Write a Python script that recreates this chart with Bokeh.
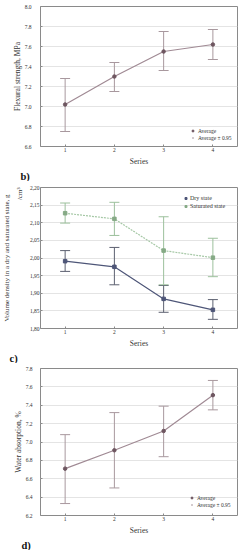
import math
from bokeh.plotting import figure
from bokeh.models import (ColumnDataSource, Whisker, TeeHead, Legend, LegendItem,
                          Title, FixedTicker, Range1d, GlobalInlineStyleSheet)
from bokeh.layouts import column
from bokeh.embed import file_html
from bokeh.resources import INLINE

# ---------------- data ----------------
series = [1, 2, 3, 4]

# b) flexural strength
flex_mean = [7.02, 7.30, 7.55, 7.62]
flex_low = [6.75, 7.15, 7.36, 7.47]
flex_high = [7.28, 7.44, 7.75, 7.77]
flex_ticks = [6.6, 6.8, 7.0, 7.2, 7.4, 7.6, 7.8, 8.0]
flex_labels = ["6.6", "6.8", "7.0", "7.2", "7.4", "7.6", "7.8", "8.0"]

# c) volume density
dry_mean = [1.991, 1.975, 1.884, 1.853]
dry_low = [1.962, 1.924, 1.846, 1.826]
dry_high = [2.021, 2.030, 1.922, 1.882]
sat_mean = [2.127, 2.111, 2.021, 2.001]
sat_low = [2.099, 2.064, 1.924, 1.947]
sat_high = [2.156, 2.158, 2.117, 2.056]
dens_ticks = [1.80, 1.85, 1.90, 1.95, 2.00, 2.05, 2.10, 2.15, 2.20]
dens_labels = ["1,80", "1,85", "1,90", "1,95", "2,00", "2,05", "2,10", "2,15", "2,20"]

# d) water absorption
wa_mean = [6.71, 6.91, 7.12, 7.51]
wa_low = [6.33, 6.50, 6.84, 7.35]
wa_high = [7.08, 7.32, 7.39, 7.67]
wa_ticks = [6.2, 6.4, 6.6, 6.8, 7.0, 7.2, 7.4, 7.6, 7.8]
wa_labels = ["6.2", "6.4", "6.6", "6.8", "7.0", "7.2", "7.4", "7.6", "7.8"]

SERIF = "Liberation Serif"
TXT = "#333333"
LINE_C = "#a08a94"
PT_C = "#6e5660"
ERR_C = "#a8989e"
DRY_C = "#4e5678"
DRY_ERR = "#5c6070"
SAT_C = "#a6c8a6"
SAT_PT = "#86aa86"
SAT_ERR = "#9cc09c"


def make_fig(h, ylo, yhi, yticks, ylabels, borders, ytick_standoff):
    left, right, top, bottom = borders
    p = figure(width=249, height=h, output_backend="svg", toolbar_location=None,
               x_range=Range1d(0.5, 4.5), y_range=Range1d(ylo, yhi),
               min_border_left=left, min_border_right=right,
               min_border_top=top, min_border_bottom=bottom)
    p.background_fill_color = "white"
    p.border_fill_color = "white"
    p.outline_line_color = "#8a8a8a"
    p.outline_line_width = 1
    p.xgrid.grid_line_color = None
    p.ygrid.grid_line_color = "#e4e4e4"
    p.ygrid.ticker = FixedTicker(ticks=yticks)
    for ax in [p.xaxis[0], p.yaxis[0]]:
        ax.axis_line_color = None
        ax.major_tick_in = 2
        ax.major_tick_out = 0
        ax.minor_tick_line_color = None
        ax.major_tick_line_color = "#8a8a8a"
        ax.major_label_text_font = SERIF
        ax.major_label_text_font_size = "5.5px"
        ax.major_label_text_color = TXT
        ax.axis_label_text_font = SERIF
        ax.axis_label_text_font_size = "7.5px"
        ax.axis_label_text_font_style = "normal"
        ax.axis_label_text_color = TXT
    p.xaxis[0].ticker = FixedTicker(ticks=series)
    p.xaxis[0].major_label_overrides = {s: str(s) for s in series}
    p.xaxis[0].major_label_standoff = 1
    p.xaxis[0].axis_label = "Series"
    p.xaxis[0].axis_label_standoff = 2
    p.yaxis[0].ticker = FixedTicker(ticks=yticks)
    p.yaxis[0].major_label_overrides = dict(zip(yticks, ylabels))
    p.yaxis[0].major_label_standoff = ytick_standoff
    return p


def side_title(p, text, place, size, align="center", standoff=0, offset=0, bold=False):
    t = Title(text=text, align=align, offset=offset, standoff=standoff,
              text_font=SERIF, text_font_size=size,
              text_color="#111111" if bold else TXT,
              text_font_style="bold" if bold else "normal")
    p.add_layout(t, place)


def add_series(p, mean, low, high, line_c, pt_c, err_c, dash="solid", marker="circle", size=3.5):
    src = ColumnDataSource(dict(x=series, m=mean, lo=low, hi=high))
    p.line("x", "m", source=src, line_color=line_c, line_width=1.2, line_dash=dash)
    w = Whisker(source=src, base="x", lower="lo", upper="hi", dimension="height",
                line_color=err_c, line_width=1,
                lower_head=TeeHead(size=10, line_color=err_c, line_width=1),
                upper_head=TeeHead(size=10, line_color=err_c, line_width=1))
    p.add_layout(w)
    r = p.scatter("x", "m", source=src, marker=marker, size=size,
                  fill_color=pt_c, line_color=pt_c)
    return r, src


def avg_legend(p, r, src, loc, err_c):
    bar = p.scatter("x", "m", source=src, marker="dash", angle=math.pi / 2, size=7,
                    line_color=err_c, line_width=1, visible=False)
    leg = Legend(items=[LegendItem(label="Average", renderers=[r], index=0),
                        LegendItem(label="Average ± 0.95", renderers=[bar], index=0)],
                 location=loc, orientation="vertical",
                 label_text_font=SERIF, label_text_font_size="5.5px",
                 label_text_color=TXT, label_standoff=3,
                 glyph_width=5, glyph_height=7, label_height=7,
                 spacing=0, padding=0, margin=0,
                 border_line_color=None, background_fill_alpha=0)
    p.add_layout(leg, "center")


# ---------------- panel b ----------------
p1 = make_fig(181, 6.6, 8.0, flex_ticks, flex_labels, (27, 7, 6, 8), 9)
side_title(p1, "Flexural strength, MPa", "left", "7.5px", standoff=0)
r1, s1 = add_series(p1, flex_mean, flex_low, flex_high, LINE_C, PT_C, ERR_C)
avg_legend(p1, r1, s1, (150, 5), ERR_C)
side_title(p1, "b)", "below", "10.5px", align="left", standoff=0, offset=-20, bold=True)

# ---------------- panel c ----------------
p2 = make_fig(182, 1.80, 2.20, dens_ticks, dens_labels, (38, 12, 6, 8), 1)
side_title(p2, "/cm³", "left", "7px", align="right", standoff=6)
side_title(p2, "Volume density in a dry and saturated state, g", "left", "7px", standoff=0)
rd, _ = add_series(p2, dry_mean, dry_low, dry_high, DRY_C, DRY_C, DRY_ERR,
                   marker="square", size=3.5)
rs, _ = add_series(p2, sat_mean, sat_low, sat_high, SAT_C, SAT_PT, SAT_ERR,
                   dash="2 1", marker="square", size=3.5)
leg2 = Legend(items=[LegendItem(label="Dry state", renderers=[rd], index=0),
                     LegendItem(label="Saturated state", renderers=[rs], index=0)],
              location=(143, 118), orientation="vertical",
              label_text_font=SERIF, label_text_font_size="6px",
              label_text_color=TXT, label_standoff=2,
              glyph_width=5, glyph_height=8, label_height=8,
              spacing=0, padding=0, margin=0,
              border_line_color=None, background_fill_alpha=0)
p2.add_layout(leg2, "center")
side_title(p2, "c)", "below", "10.5px", align="left", standoff=0, offset=-31, bold=True)

# ---------------- panel d ----------------
p3 = make_fig(187, 6.2, 7.8, wa_ticks, wa_labels, (26, 3, 5, 8), 8)
side_title(p3, "Water absorption, %", "left", "7.5px", standoff=0)
r3, s3 = add_series(p3, wa_mean, wa_low, wa_high, LINE_C, PT_C, ERR_C)
avg_legend(p3, r3, s3, (149, 7), ERR_C)
side_title(p3, "d)", "below", "10.5px", align="left", standoff=0, offset=-19, bold=True)

page_css = GlobalInlineStyleSheet(css="html, body { margin: 0; padding: 0; overflow: hidden; }")
layout = column(p1, p2, p3, spacing=0, stylesheets=[page_css])

open("out.html", "w").write(file_html(layout, INLINE))
